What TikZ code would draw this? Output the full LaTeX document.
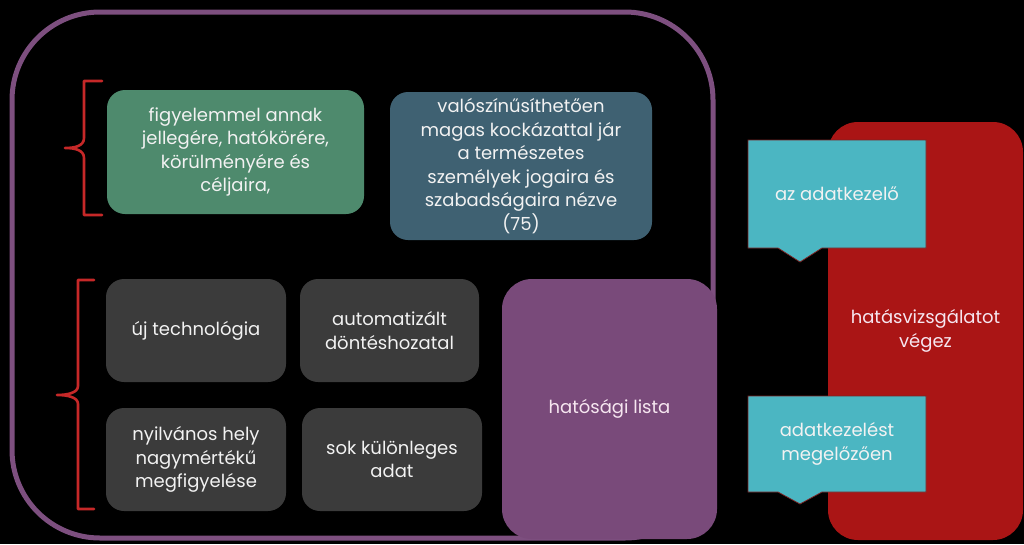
\documentclass[tikz,border=0pt]{standalone}
\usepackage{fontspec}
\setmainfont{Poppins}
\definecolor{framepurple}{HTML}{7D4F7F}
\definecolor{listpurple}{HTML}{794A7A}
\definecolor{boxgreen}{HTML}{4E8A6D}
\definecolor{boxblue}{HTML}{3F6172}
\definecolor{boxgray}{HTML}{3B3B3B}
\definecolor{boxred}{HTML}{AA1515}
\definecolor{boxcyan}{HTML}{4BB6C2}
\definecolor{cyanedge}{HTML}{7A2424}
\definecolor{brackred}{HTML}{C62828}
\definecolor{txt}{HTML}{F2F2F2}
\definecolor{pinktxt}{HTML}{F6E6F0}
\begin{document}
\begin{tikzpicture}[x=1pt,y=-1pt,
  box/.style={rectangle, rounded corners=18pt, align=center, text=txt,
    font=\fontsize{18}{23.5}\selectfont, inner sep=0pt},
  bigbox/.style={box, rounded corners=30pt},
  callshape/.style={fill=boxcyan, draw=cyanedge, line width=0.8pt, line join=miter},
  calltext/.style={align=center, text=txt, font=\fontsize{18}{23.5}\selectfont, inner sep=0pt},
  brack/.style={draw=brackred, line width=2.6pt, line cap=round, line join=round},
  frame/.style={draw=framepurple, line width=5pt}]
\fill[black] (0,0) rectangle (1024,544);
\useasboundingbox (0,0) rectangle (1024,544);

% outer frame
\path[frame, rounded corners=88pt] (12,12) rectangle (713,538);

% top row
\node[box, fill=boxgreen, minimum width=257pt, minimum height=124pt] (green) at (235.5,152)
  {figyelemmel annak\\jellegére, hatókörére,\\körülményére és\\céljaira,};
\node[box, fill=boxblue, minimum width=262pt, minimum height=148pt] (blue) at (521,166)
  {valószínűsíthetően\\magas kockázattal jár\\a természetes\\személyek jogaira és\\szabadságaira nézve\\(75)};

% gray grid
\node[box, fill=boxgray, minimum width=180pt, minimum height=103pt] (g1) at (196,330.5) {új technológia};
\node[box, fill=boxgray, minimum width=179pt, minimum height=103pt] (g2) at (389.5,330.5) {automatizált\\döntéshozatal};
\node[box, fill=boxgray, minimum width=180pt, minimum height=103pt] (g3) at (196,459.5) {nyilvános hely\\nagymértékű\\megfigyelése};
\node[box, fill=boxgray, minimum width=180pt, minimum height=103pt] (g4) at (392,459.5) {sok különleges\\adat};

% authority list
\node[bigbox, fill=listpurple, text=pinktxt, minimum width=215pt, minimum height=260pt] (list) at (609.5,409) {hatósági lista};

% brackets
\path[brack] (102,81) -- (84,81) -- (84,138) .. controls (84,146) and (75,148) .. (65,148)
  .. controls (75,148) and (84,150) .. (84,158) -- (84,215) -- (102,215);
\path[brack] (94,280) -- (78,280) -- (78,386) .. controls (78,393) and (67,395) .. (57,395)
  .. controls (67,395) and (78,397) .. (78,404) -- (78,509) -- (94,509);

% red box
\node[bigbox, fill=boxred, text=pinktxt, minimum width=195pt, minimum height=418pt] (red) at (925.5,331)
  {hatásvizsgálatot\\végez};

% callouts
\path[callshape] (748,140) -- (926,140) -- (926,248) -- (822,248) -- (800,262) -- (778,248) -- (748,248) -- cycle;
\node[calltext] (c1) at (837,194) {az adatkezelő};
\path[callshape] (748,396) -- (926,396) -- (926,492) -- (822,492) -- (800,504) -- (778,492) -- (748,492) -- cycle;
\node[calltext] (c2) at (837,444) {adatkezelést\\megelőzően};
\end{tikzpicture}
\end{document}
